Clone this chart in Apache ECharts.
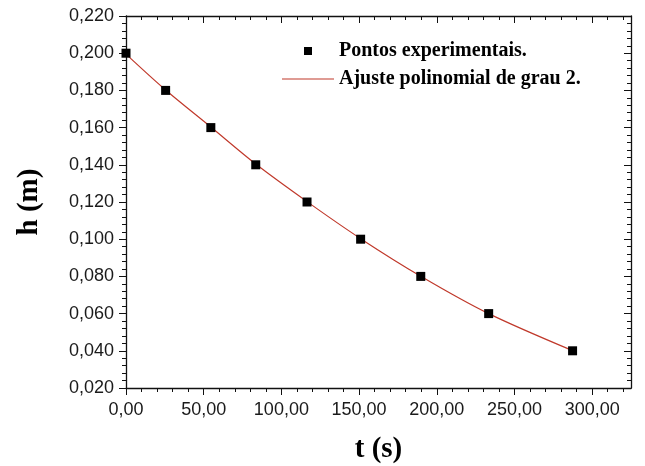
<!DOCTYPE html>
<html>
<head>
<meta charset="utf-8">
<script src="https://cdn.jsdelivr.net/npm/echarts@6/dist/echarts.min.js"></script>
<style>
 html, body { margin: 0; padding: 0; background: #fff; }
 #chart { width: 645px; height: 466px; }
</style>
</head>
<body>
<div id="chart"></div>
<script>
 // pontos experimentais (t em s, h em m)
 var tempos = [0, 25.5, 54.6, 83.5, 116.5, 151.0, 189.7, 233.4, 287.4];
 var alturas = [0.200, 0.180, 0.160, 0.140, 0.120, 0.100, 0.080, 0.060, 0.040];
 // curva de ajuste
 var ajusteT = [0, 25.5, 54.6, 83.5, 116.5, 151.0, 189.7, 233.4, 287.4];
 var ajusteH = [0.1995, 0.1802, 0.1603, 0.1404, 0.1202, 0.1003, 0.0801, 0.0600, 0.0401];
 // rotulos do eixo x
 var xTicks = [0, 50, 100, 150, 200, 250, 300];

 var xMinor = [];
 for (var v = 0; v <= 320; v += 10) {
  if (v % 50 != 0) xMinor.push(v);
 }

 var pontos = [];
 for (var i = 0; i < tempos.length; i++) pontos.push([tempos[i], alturas[i]]);
 var curva = [];
 for (var i = 0; i < ajusteT.length; i++) curva.push([ajusteT[i], ajusteH[i]]);

 var lineCol = '#111';
 var labelFont = { color: '#1a1a1a', fontSize: 18, fontFamily: 'Liberation Sans, Arial, sans-serif' };
 var titleFont = { color: '#000', fontSize: 29, fontWeight: 'bold', fontFamily: 'Liberation Serif, Times New Roman, serif' };

 function xAxisBase(pos, ticks, len, inside, showLine) {
  return {
   type: 'value', position: pos, min: 0, max: 325,
   axisLine: { show: showLine, onZero: false, lineStyle: { color: lineCol, width: 1.3 } },
   axisTick: { show: true, customValues: ticks, length: len, inside: inside, lineStyle: { color: lineCol, width: 1 } },
   axisLabel: { show: false },
   splitLine: { show: false }
  };
 }

 var xMain = xAxisBase('bottom', xTicks, 7, false, true);
 xMain.axisLabel = {
  show: true, customValues: xTicks, margin: 13,
  formatter: function (v) { return v.toFixed(2).replace('.', ','); }
 };
 for (var k in labelFont) xMain.axisLabel[k] = labelFont[k];
 xMain.name = 't (s)';
 xMain.nameLocation = 'middle';
 xMain.nameGap = 47;
 xMain.nameTextStyle = titleFont;

 var myChart = echarts.init(document.getElementById('chart'));
 var option = {
  animation: false,
  backgroundColor: '#fff',
  grid: { left: 126, right: 14, top: 16, bottom: 78, containLabel: false, outerBoundsMode: 'none' },
  legend: {
   orient: 'vertical', left: 277, top: 36,
   itemWidth: 52, itemHeight: 8, itemGap: 8,
   textStyle: { color: '#000', fontSize: 20, fontWeight: 'bold', fontFamily: 'Liberation Serif, Times New Roman, serif' },
   data: [
    { name: 'Pontos experimentais.', icon: 'path://M0,0h10v10h-10z' },
    { name: 'Ajuste polinomial de grau 2.', icon: 'path://M0,0h52v1.2h-52z' }
   ]
  },
  xAxis: [
   xMain,
   xAxisBase('bottom', xMinor, 4, false, false),
   xAxisBase('top', xTicks, 7, true, true),
   xAxisBase('top', xMinor, 4, true, false)
  ],
  yAxis: [
   {
    type: 'value', position: 'left', min: 0.02, max: 0.22, interval: 0.02,
    name: 'h (m)', nameLocation: 'middle', nameGap: 82, nameRotate: 90,
    nameTextStyle: titleFont,
    axisLine: { show: true, onZero: false, lineStyle: { color: lineCol, width: 1.3 } },
    axisTick: { show: true, length: 7, lineStyle: { color: lineCol } },
    minorTick: { show: true, splitNumber: 5, length: 4, lineStyle: { color: lineCol } },
    axisLabel: Object.assign({ margin: 12, formatter: function (v) { return v.toFixed(3).replace('.', ','); } }, labelFont),
    splitLine: { show: false }
   },
   {
    type: 'value', position: 'right', min: 0.02, max: 0.22, interval: 0.02,
    axisLine: { show: true, onZero: false, lineStyle: { color: lineCol, width: 1.3 } },
    axisTick: { show: true, inside: true, length: 7, lineStyle: { color: lineCol } },
    minorTick: { show: true, splitNumber: 5, length: 4, lineStyle: { color: lineCol } },
    axisLabel: { show: false },
    splitLine: { show: false }
   }
  ],
  series: [
   {
    name: 'Ajuste polinomial de grau 2.',
    type: 'line', xAxisIndex: 0, yAxisIndex: 0,
    data: curva, smooth: 0.3, symbol: 'none',
    lineStyle: { color: '#c0392b', width: 1.2 },
    itemStyle: { color: '#c0392b' },
    z: 2
   },
   {
    name: 'Pontos experimentais.',
    type: 'scatter', xAxisIndex: 0, yAxisIndex: 0,
    data: pontos, symbol: 'rect', symbolSize: 9,
    itemStyle: { color: '#000', opacity: 1 },
    clip: false,
    z: 3
   }
  ]
 };
 myChart.setOption(option);
</script>
</body>
</html>
